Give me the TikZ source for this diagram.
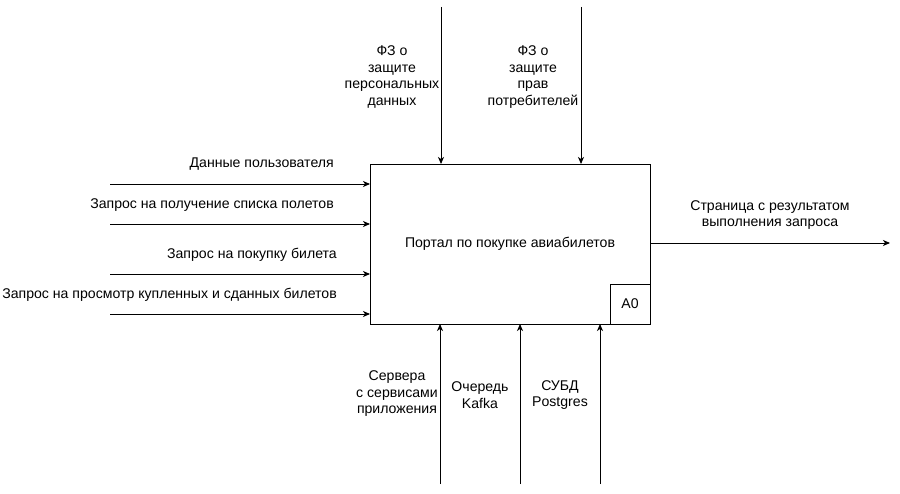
\documentclass[tikz,border=0pt]{standalone}
\usepackage{fontspec}
\setmainfont{Liberation Sans}
\usetikzlibrary{arrows.meta}
\begin{document}
\begin{tikzpicture}[x=1pt,y=-1pt,
  lbl/.style={inner sep=0pt,font=\fontsize{14.1}{16.5}\selectfont,align=center},
  arr/.style={line width=0.9pt,-{Stealth[length=7pt,width=6pt,inset=2pt]}},
  boxst/.style={draw,line width=0.9pt,inner sep=0pt}]
\useasboundingbox (0,0) rectangle (900,494);
\node[boxst,minimum width=280pt,minimum height=160pt] (main) at (510,244) {};
\node[lbl] (maintxt) at (510,244) {Портал по покупке авиабилетов};
\node[boxst,minimum width=40pt,minimum height=40pt,font=\fontsize{14.1}{16.5}\selectfont] (a0) at (630,304) {A0};
% inputs
\coordinate (i1) at (110,184); \coordinate (e1) at (370,184);
\coordinate (i2) at (110,224); \coordinate (e2) at (370,224);
\coordinate (i3) at (110,274); \coordinate (e3) at (370,274);
\coordinate (i4) at (110,314); \coordinate (e4) at (370,314);
\draw[arr] (i1) -- (e1);
\draw[arr] (i2) -- (e2);
\draw[arr] (i3) -- (e3);
\draw[arr] (i4) -- (e4);
\node[lbl,anchor=east] (l1) at (334,164) {Данные пользователя};
\node[lbl,anchor=east] (l2) at (334,205) {Запрос на получение списка полетов};
\node[lbl,anchor=east] (l3) at (337,255) {Запрос на покупку билета};
\node[lbl,anchor=east] (l4) at (337,295) {Запрос на просмотр купленных и сданных билетов};
% controls
\coordinate (c1) at (441,7); \coordinate (ce1) at (441,164);
\coordinate (c2) at (581,7); \coordinate (ce2) at (581,164);
\draw[arr] (c1) -- (ce1);
\draw[arr] (c2) -- (ce2);
\node[lbl] (lc1) at (392,77) {ФЗ о\\защите\\персональных\\данных};
\node[lbl] (lc2) at (533,77) {ФЗ о\\защите\\прав\\потребителей};
% mechanisms
\coordinate (m1) at (440,484); \coordinate (me1) at (440,324);
\coordinate (m2) at (520,484); \coordinate (me2) at (520,324);
\coordinate (m3) at (600,484); \coordinate (me3) at (600,324);
\draw[arr] (m1) -- (me1);
\draw[arr] (m2) -- (me2);
\draw[arr] (m3) -- (me3);
\node[lbl] (lm1) at (397,394) {Сервера\\с сервисами\\приложения};
\node[lbl] (lm2) at (480,395) {Очередь\\Kafka};
\node[lbl] (lm3) at (560,395) {СУБД\\Postgres};
% output
\coordinate (o1) at (650,243); \coordinate (oe1) at (890,243);
\draw[arr] (o1) -- (oe1);
\node[lbl] (lo) at (770,215) {Страница с результатом\\выполнения запроса};
\end{tikzpicture}
\end{document}
